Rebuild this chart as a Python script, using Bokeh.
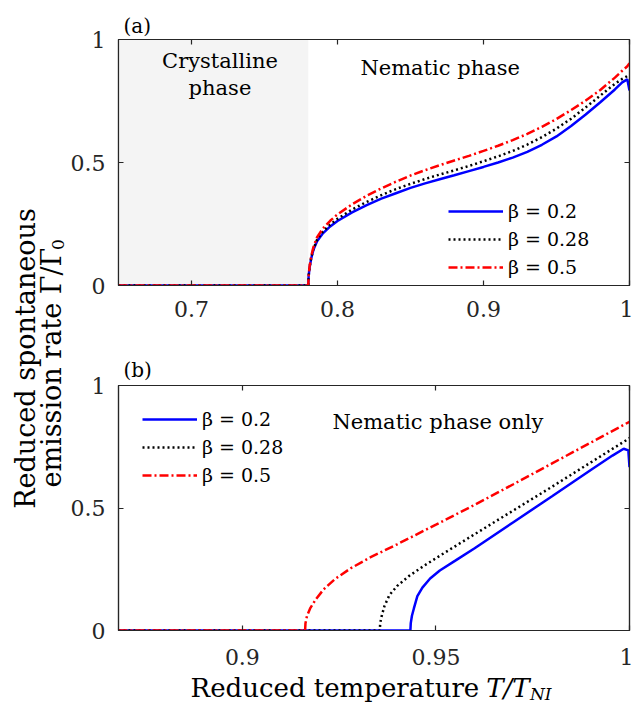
import math
from bokeh.plotting import figure
from bokeh.layouts import row, column
from bokeh.models import Label, LinearAxis, FixedTicker, Range1d, Legend, LegendItem
from bokeh.embed import file_html
from bokeh.resources import INLINE

FONT = "DejaVu Serif"
AX = "#262626"
K_MID = 0.346   # (ascent - descent) / 2 for DejaVu Serif: baseline -> middle offset

# ---------------- data ----------------
beta_labels = ["β = 0.2", "β = 0.28", "β = 0.5"]
colors = ["#0000ff", "#000000", "#ff0000"]
dashes = ["solid", "2 3", "9 3 2 3"]

crystal_region = [0.65, 0.78]   # crystalline phase (shaded) in panel (a)

# panel (a)
xa = [0.65, 0.78, 0.7802, 0.7808, 0.782, 0.7835, 0.786, 0.79, 0.795, 0.80, 0.81,
      0.82, 0.83, 0.84, 0.85, 0.86, 0.87, 0.88, 0.89, 0.90, 0.91, 0.92, 0.93,
      0.94, 0.95, 0.96, 0.97, 0.98, 0.99, 0.995, 0.9985, 1.0]
blue_a = [0, 0, 0.035, 0.070, 0.110, 0.145, 0.180, 0.212, 0.240, 0.262, 0.297,
          0.327, 0.353, 0.375, 0.397, 0.415, 0.432, 0.448, 0.465, 0.482, 0.500, 0.520, 0.543,
          0.572, 0.606, 0.648, 0.695, 0.745, 0.797, 0.826, 0.838, 0.793]
black_a = [0, 0, 0.036, 0.072, 0.113, 0.149, 0.186, 0.219, 0.248, 0.271, 0.309,
           0.340, 0.367, 0.392, 0.413, 0.433, 0.451, 0.468, 0.486, 0.505, 0.525, 0.547, 0.573,
           0.603, 0.638, 0.678, 0.724, 0.772, 0.820, 0.840, 0.851, 0.858]
red_a = [0, 0, 0.037, 0.075, 0.118, 0.156, 0.196, 0.232, 0.263, 0.289, 0.330,
         0.365, 0.395, 0.422, 0.447, 0.469, 0.489, 0.508, 0.527, 0.547, 0.568, 0.591, 0.616,
         0.645, 0.677, 0.713, 0.752, 0.795, 0.845, 0.873, 0.891, 0.903]

# panel (b)
xb_blue = [0.868, 0.9434, 0.9435, 0.9438, 0.9443, 0.9452, 0.9465, 0.9485, 0.951, 0.955,
           0.96, 0.97, 0.98, 0.99, 0.9956, 0.9985, 0.9997, 1.0]
yb_blue = [0, 0, 0.030, 0.060, 0.090, 0.140, 0.175, 0.212, 0.245, 0.285,
           0.336, 0.442, 0.548, 0.655, 0.714, 0.742, 0.735, 0.667]
xb_black = [0.868, 0.9355, 0.9356, 0.936, 0.9367, 0.938, 0.94, 0.943, 0.947, 0.952,
            0.96, 0.97, 0.98, 0.99, 1.0]
yb_black = [0, 0, 0.030, 0.060, 0.100, 0.145, 0.182, 0.222, 0.265, 0.315,
            0.393, 0.490, 0.587, 0.686, 0.785]
xb_red = [0.868, 0.9162, 0.9163, 0.9167, 0.9175, 0.919, 0.921, 0.924, 0.928, 0.933,
          0.94, 0.95, 0.96, 0.97, 0.98, 0.99, 1.0]
yb_red = [0, 0, 0.030, 0.060, 0.090, 0.128, 0.168, 0.211, 0.254, 0.298,
          0.352, 0.432, 0.513, 0.597, 0.682, 0.767, 0.852]

xa_ticks = [0.7, 0.8, 0.9, 1.0]
xa_tick_labels = ["0.7", "0.8", "0.9", "1"]
xb_ticks = [0.9, 0.95, 1.0]
xb_tick_labels = ["0.9", "0.95", "1"]
y_ticks = [0, 0.5, 1]
y_tick_labels = ["0", "0.5", "1"]


def style_axis(ax, ticks, labels=None, standoff=12):
    ax.ticker = FixedTicker(ticks=ticks, minor_ticks=[])
    ax.major_tick_in = 5
    ax.major_tick_out = 0
    ax.minor_tick_line_color = None
    ax.axis_line_color = AX
    ax.major_tick_line_color = AX
    ax.axis_line_width = 1.2
    ax.major_tick_line_width = 1.2
    if labels is None:
        ax.major_label_text_font_size = "1px"
        ax.major_label_text_color = None
        ax.major_label_standoff = 0
    else:
        ax.major_label_overrides = {t: l for t, l in zip(ticks, labels)}
        ax.major_label_text_font = FONT
        ax.major_label_text_font_size = "22px"
        ax.major_label_text_color = AX
        ax.major_label_standoff = standoff


def make_panel(height, xr, xticks, xlabels, top, bottom, title, title_standoff, xstand):
    p = figure(width=566, height=height, x_range=Range1d(*xr), y_range=Range1d(0, 1),
               output_backend="svg", toolbar_location=None,
               min_border_left=48, min_border_right=4,
               min_border_top=top, min_border_bottom=bottom)
    p.grid.visible = False
    p.outline_line_color = AX
    p.outline_line_width = 1.2
    p.background_fill_color = "white"
    style_axis(p.xaxis[0], xticks, xlabels, standoff=xstand)
    style_axis(p.yaxis[0], y_ticks, y_tick_labels, standoff=13)
    ra = LinearAxis()
    style_axis(ra, y_ticks)
    p.add_layout(ra, "right")
    ta = LinearAxis()
    style_axis(ta, xticks)
    p.add_layout(ta, "above")
    p.title.text = title
    p.title.text_font = FONT
    p.title.text_font_size = "20px"
    p.title.text_font_style = "normal"
    p.title.text_color = "black"
    p.title.align = "left"
    p.title.offset = 5
    p.title.standoff = title_standoff
    return p


def add_lines(p, xs, ys):
    rs = []
    for x, y, c, d in zip(xs, ys, colors, dashes):
        rs.append(p.line(x, y, line_color=c, line_width=2.5, line_dash=d))
    return rs


def add_legend(p, rs, loc):
    leg = Legend(items=[LegendItem(label=l, renderers=[r]) for l, r in zip(beta_labels, rs)],
                 location=loc, padding=0, margin=0, spacing=0,
                 glyph_width=55, glyph_height=28, label_height=28, label_standoff=5,
                 label_text_font=FONT, label_text_font_size="19px", label_text_color="black",
                 border_line_color=None, background_fill_alpha=0)
    p.add_layout(leg)


def txt(p, x, y, s, size=21, align="center", angle=0, style="normal"):
    p.add_layout(Label(x=x, y=y, text=s, text_font=FONT, text_font_size=f"{size}px",
                       text_color="black", text_align=align, angle=angle,
                       text_font_style=style, text_baseline="middle"))


def blank(width, height, xr, yr, left=0, right=0):
    s = figure(width=width, height=height, x_range=Range1d(*xr), y_range=Range1d(*yr),
               x_axis_type=None, y_axis_type=None,
               output_backend="svg", toolbar_location=None, min_border=0,
               min_border_left=left, min_border_right=right)
    s.grid.visible = False
    s.outline_line_color = None
    s.background_fill_alpha = 0
    s.border_fill_alpha = 0
    return s


# ---------------- panel (a) ----------------
pA = make_panel(322, (0.65, 1.0), xa_ticks, xa_tick_labels, 31, 45, "(a)", 3, 15)
pA.quad(left=[crystal_region[0]], right=[crystal_region[1]], bottom=[0], top=[1],
        fill_color="#f4f4f4", line_color=None)
rsA = add_lines(pA, [xa, xa, xa], [blue_a, black_a, red_a])
add_legend(pA, rsA, (330, 4))
txt(pA, 0.7195, 0.912, "Crystalline")
txt(pA, 0.7195, 0.802, "phase")
txt(pA, 0.8703, 0.883, "Nematic phase")

# ---------------- panel (b) ----------------
pB = make_panel(345, (0.868, 1.0), xb_ticks, xb_tick_labels, 55, 45, "(b)", 7, 18)
rsB = add_lines(pB, [xb_blue, xb_black, xb_red], [yb_blue, yb_black, yb_red])
add_legend(pB, rsB, (24, 141))
txt(pB, 0.9505, 0.853, "Nematic phase only")

# ---------------- x-axis label strip (page coordinates; frame 115..629) ----------------
xlab = blank(566, 28, (115, 629), (703, 675), left=48, right=4)
txt(xlab, 187.5, 696 - K_MID * 26, "Reduced temperature", size=26, align="left")
txt(xlab, 484.8, 696 - K_MID * 26, "T/T", size=26, align="left", style="italic")
txt(xlab, 528.8, 699.5 - K_MID * 17, "NI", size=17, align="left", style="italic")

# ---------------- y-axis label strip (page coordinates) ----------------
ylab = blank(59, 695, (8, 67), (703, 8))
half = math.pi / 2
txt(ylab, 34 - K_MID * 27, 358, "Reduced spontaneous", size=27, align="center", angle=half)
txt(ylab, 60 - K_MID * 27, 487, "emission rate Γ/Γ", size=27, align="left", angle=half)
txt(ylab, 63 - K_MID * 17, 249.4, "0", size=17, align="left", angle=half)

layout = row(ylab, column(pA, pB, xlab, spacing=0), spacing=0, margin=(8, 0, 0, 8))
open("out.html", "w").write(file_html(layout, INLINE))
